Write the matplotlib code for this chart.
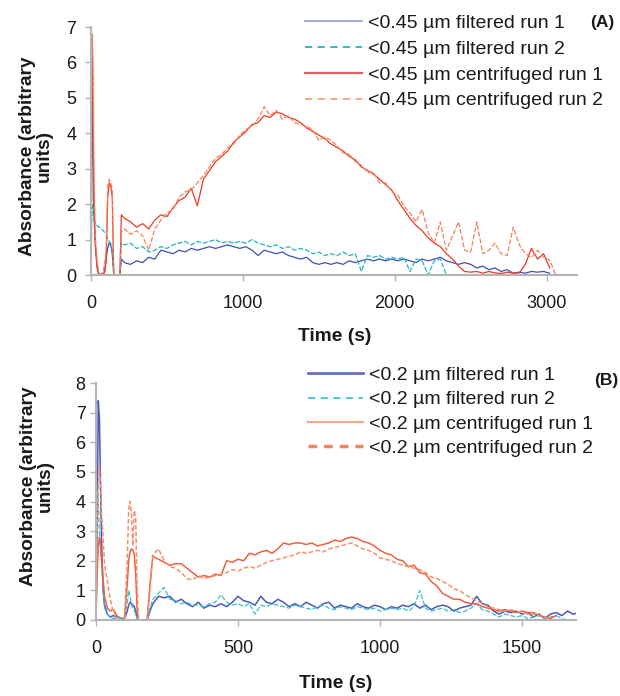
import numpy as np
import matplotlib
matplotlib.use("Agg")
import matplotlib.pyplot as plt

plt.rcParams['font.family'] = ['Liberation Sans', 'DejaVu Sans']

# ---- panel A data (<0.45 um) ----
t_a = [0, 5, 10, 15, 20, 25, 30, 40, 50, 60, 70, 80, 90, 100, 110, 120, 130, 140,
       150, 160, 170, 180, 190, 200] + list(range(220, 3061, 40))

filt1_a = [0, 6.8, 4.0, 2.2, 1.6, 1.2, 0.8, 0.3, 0.05, 0.0, 0.02, 0.0, 0.1, 0.5, 0.75, 0.9, 0.85, 0.6,
           0.0, 0.0, 0.0, 0.0, 0.0, 0.45,
           0.35, 0.3, 0.4, 0.35, 0.5, 0.45, 0.7, 0.65, 0.6, 0.7, 0.65, 0.75,
           0.7, 0.75, 0.8, 0.75, 0.8, 0.85, 0.8, 0.75, 0.8, 0.7, 0.55, 0.7,
           0.65, 0.6, 0.65, 0.55, 0.5, 0.45, 0.5, 0.35, 0.3, 0.35, 0.3, 0.35,
           0.3, 0.4, 0.35, 0.4, 0.45, 0.4, 0.45, 0.4, 0.45, 0.4, 0.45, 0.4,
           0.35, 0.45, 0.4, 0.45, 0.5, 0.4, 0.35, 0.3, 0.35, 0.3, 0.2, 0.25,
           0.15, 0.2, 0.1, 0.15, 0.05, 0.08, 0.05, 0.1, 0.08, 0.1, 0.05, np.nan]

filt2_a = [0.3, 1.5, 2.0, 1.9, 1.7, 1.5, 1.4, 1.4, 1.35, 1.35, 1.3, 1.25, 1.2, 1.15, 1.0, 0.95, 0.9, 0.7,
           0.0, 0.0, 0.0, 0.0, 0.0, 0.9,
           0.85, 0.9, 0.75, 0.8, 0.65, 0.7, 0.8, 0.75, 0.85, 0.9, 0.95, 0.85,
           0.95, 0.9, 0.95, 1.0, 0.9, 0.95, 0.9, 0.95, 0.9, 1.0, 0.9, 0.85,
           0.8, 0.85, 0.75, 0.8, 0.7, 0.75, 0.7, 0.6, 0.65, 0.55, 0.6, 0.55,
           0.65, 0.55, 0.6, 0.1, 0.55, 0.5, 0.55, 0.45, 0.5, 0.45, 0.5, 0.1,
           0.45, 0.4, 0.0, 0.4, 0.45, 0.0] + [np.nan] * 18

cent1_a = [0, 6.8, 6.2, 3.6, 2.1, 1.3, 0.7, 0.2, 0.0, 0.0, 0.05, 0.0, 0.1, 0.4, 2.2, 2.6, 2.5, 2.2,
           0.0, 0.0, 0.0, 0.0, 0.0, 1.7,
           1.6, 1.5, 1.35, 1.45, 1.3, 1.55, 1.7, 1.65, 1.9, 2.1, 2.2, 2.45,
           1.95, 2.7, 2.95, 3.2, 3.35, 3.5, 3.75, 3.9, 4.05, 4.25, 4.3, 4.5,
           4.45, 4.6, 4.55, 4.45, 4.4, 4.3, 4.15, 4.05, 3.95, 3.85, 3.7, 3.6,
           3.5, 3.35, 3.25, 3.05, 2.95, 2.85, 2.7, 2.55, 2.4, 2.1, 1.85, 1.6,
           1.4, 1.25, 1.05, 0.9, 0.8, 0.6, 0.45, 0.25, 0.1, 0.08, 0.1, 0.05,
           0.1, 0.06, 0.04, 0.08, 0.05, 0.06, 0.3, 0.75, 0.45, 0.6, 0.2, np.nan]

cent2_a = [0, 6.5, 6.8, 5.5, 3.0, 1.8, 1.0, 0.4, 0.1, 0.0, 0.0, 0.1, 0.3, 0.8, 2.5, 2.7, 2.6, 2.4,
           0.0, 0.0, 0.0, 0.0, 0.0, 1.2,
           1.3, 1.15, 1.25, 1.1, 0.7, 1.3, 1.55, 1.75, 1.85, 2.2, 2.35, 2.4,
           2.6, 2.8, 3.05, 3.3, 3.4, 3.6, 3.7, 3.95, 4.1, 4.2, 4.4, 4.75,
           4.5, 4.65, 4.4, 4.5, 4.3, 4.25, 4.2, 4.1, 3.8, 3.9, 3.8, 3.65,
           3.45, 3.4, 3.2, 3.1, 2.9, 2.9, 2.6, 2.6, 2.35, 2.25, 1.95, 1.75,
           1.5, 1.85, 1.2, 0.9, 1.5, 0.7, 1.1, 1.5, 0.7, 0.65, 1.5, 0.6,
           0.7, 0.9, 0.6, 0.55, 1.35, 0.85, 0.6, 0.5, 0.7, 0.5, 0.42, 0.0]

# ---- panel B data (<0.2 um) ----
t_b = [0, 4, 8, 12, 16, 20, 25, 30, 40, 50, 60, 70, 80, 90, 100, 110, 115, 120, 125, 130,
       135, 140, 145, 150, 160, 170, 180, 190] + list(range(200, 1701, 20))

filt1_b = [0, 3.0, 7.4, 6.8, 4.5, 2.5, 1.0, 0.5, 0.2, 0.1, 0.15, 0.1, 0.1, 0.05, 0.05, 0.3, 0.5, 0.6,
           0.55, 0.5, 0.45, 0.3, 0.0, 0.0, 0.0, 0.0, 0.0, 0.3,
           0.55, 0.8, 0.75, 0.8, 0.6, 0.7, 0.55, 0.45, 0.6, 0.4,
           0.5, 0.45, 0.55, 0.45, 0.6, 0.8, 0.65, 0.6, 0.5, 0.8,
           0.6, 0.55, 0.7, 0.6, 0.45, 0.55, 0.45, 0.6, 0.5, 0.4,
           0.55, 0.6, 0.4, 0.5, 0.45, 0.4, 0.55, 0.45, 0.4, 0.5,
           0.45, 0.35, 0.45, 0.4, 0.5, 0.45, 0.55, 0.4, 0.5, 0.35,
           0.45, 0.5, 0.45, 0.3, 0.4, 0.45, 0.5, 0.8, 0.55, 0.5,
           0.3, 0.2, 0.3, 0.25, 0.3, 0.2, 0.25, 0.1, 0.2, 0.05,
           0.2, 0.25, 0.15, 0.3, 0.2, 0.25]

filt2_b = [0, 4.4, 4.0, 3.0, 2.5, 1.8, 1.0, 0.4, 0.2, 0.1, 0.05, 0.05, 0.1, 0.05, 0.1, 0.6, 1.0, 0.8,
           0.5, 0.4, 0.3, 0.2, 0.0, 0.0, 0.0, 0.0, 0.0, 0.4,
           0.7, 0.9, 1.1, 0.7, 0.65, 0.55, 0.6, 0.5, 0.5, 0.45,
           0.55, 0.6, 0.85, 0.6, 0.5, 0.55, 0.45, 0.55, 0.2, 0.5,
           0.45, 0.55, 0.5, 0.45, 0.4, 0.5, 0.45, 0.4, 0.35, 0.45,
           0.5, 0.4, 0.35, 0.45, 0.4, 0.35, 0.45, 0.4, 0.35, 0.4,
           0.3, 0.35, 0.4, 0.35, 0.4, 0.3, 0.45, 1.0, 0.4, 0.3,
           0.35, 0.4, 0.3, 0.35, 0.25, 0.3, 0.4, 0.55, 0.35, 0.3,
           0.2, 0.1, 0.2, 0.15, 0.1, 0.15, 0.05, 0.1, 0.15, 0.05,
           0.1, 0.15, 0.05, 0.0, np.nan, np.nan]

cent1_b = [0, 1.5, 2.5, 2.8, 2.5, 2.0, 1.4, 0.8, 0.4, 0.3, 0.35, 0.2, 0.05, 0.0, 0.0, 1.2, 2.0, 2.3,
           2.4, 2.35, 2.2, 1.5, 0.3, 0.0, 0.0, 0.0, 0.0, 1.2,
           2.15, 2.05, 1.95, 1.85, 1.9, 1.9, 1.75, 1.6, 1.45, 1.5,
           1.45, 1.55, 1.5, 2.0, 1.95, 2.05, 2.0, 2.25, 2.2, 2.3,
           2.35, 2.25, 2.4, 2.6, 2.55, 2.6, 2.6, 2.55, 2.6, 2.5,
           2.55, 2.6, 2.7, 2.65, 2.75, 2.8, 2.75, 2.65, 2.6, 2.5,
           2.35, 2.25, 2.2, 2.05, 2.0, 1.8, 1.85, 1.6, 1.55, 1.3,
           1.15, 0.9, 0.8, 0.7, 0.7, 0.6, 0.55, 0.55, 0.45, 0.4,
           0.35, 0.3, 0.35, 0.3, 0.25, 0.3, 0.25, 0.25, 0.15, 0.1,
           0.05, 0.15, np.nan, np.nan, np.nan, np.nan]

cent2_b = [0.0, 3.0, 4.5, 5.2, 4.6, 3.5, 2.8, 1.9, 1.3, 0.7, 0.3, 0.1, 0.05, 0.0, 0.0, 2.0, 3.7, 4.0,
           3.6, 2.5, 3.7, 3.4, 1.0, 0.0, 0.0, 0.0, 0.0, 1.0,
           2.2, 2.4, 2.0, 1.8, 1.75, 1.6, 1.4, 1.35, 1.5, 1.4,
           1.45, 1.5, 1.55, 1.6, 1.7, 1.65, 1.75, 1.8, 1.75, 1.85,
           1.95, 2.0, 2.05, 2.1, 2.15, 2.2, 2.3, 2.25, 2.3, 2.35,
           2.3, 2.4, 2.45, 2.5, 2.55, 2.6, 2.5, 2.4, 2.35, 2.25,
           2.1, 2.05, 2.0, 1.9, 1.85, 1.8, 1.75, 1.7, 1.6, 1.45,
           1.4, 1.3, 1.2, 1.05, 1.0, 0.85, 0.75, 0.65, 0.55, 0.45,
           0.4, 0.35, 0.3, 0.35, 0.3, 0.25, 0.2, 0.2, 0.15, 0.1,
           0.05, np.nan, np.nan, np.nan, np.nan, np.nan]

labels_a = ['<0.45 µm filtered run 1', '<0.45 µm filtered run 2',
            '<0.45 µm centrifuged run 1', '<0.45 µm centrifuged run 2']
labels_b = ['<0.2 µm filtered run 1', '<0.2 µm filtered run 2',
            '<0.2 µm centrifuged run 1', '<0.2 µm centrifuged run 2']

W, H = 620, 696
fig = plt.figure(figsize=(W / 100, H / 100), dpi=100)
axA = fig.add_axes([91 / W, 1 - 275 / H, 486 / W, 248 / H])
axB = fig.add_axes([96 / W, 1 - 620 / H, 480 / W, 237 / H])

txt = '#1a1a1a'
gray = '#b4b4b4'
fs_tick = 13
fs_leg = 14
fs_lab = 13.8


def style(ax, xmax, ymax, xticks, ypad):
    ax.set_xlim(0, xmax)
    ax.set_ylim(0, ymax)
    ax.set_xticks(xticks)
    ax.set_yticks(range(0, ymax + 1))
    for s in ['top', 'right']:
        ax.spines[s].set_visible(False)
    for s in ['left', 'bottom']:
        ax.spines[s].set_color(gray)
        ax.spines[s].set_linewidth(1.5)
    ax.tick_params(axis='x', length=4, width=1, color=gray, pad=10.5, labelsize=fs_tick, labelcolor=txt)
    ax.tick_params(axis='y', length=4, width=1, color=gray, pad=ypad, labelsize=fs_tick, labelcolor=txt)


def style_legend(leg, colors, widths, dashes):
    for ln, c, lw, d in zip(leg.get_lines(), colors, widths, dashes):
        ln.set_color(c)
        ln.set_linewidth(lw)
        if d:
            ln.set_dashes(d)
    for t in leg.get_texts():
        t.set_color(txt)


# panel A
a1, = axA.plot(t_a, filt1_a, color='#4050b0', lw=0.9)
a2, = axA.plot(t_a, filt2_a, color='#1fb5c4', lw=0.9, dashes=(4, 1.5))
a3, = axA.plot(t_a, cent1_a, color='#ec3a28', lw=0.9)
a4, = axA.plot(t_a, cent2_a, color='#f5825c', lw=0.9, dashes=(4, 1.5))
style(axA, 3200, 7, [0, 1000, 2000, 3000], 6.5)
legA = axA.legend([a1, a2, a3, a4], labels_a, loc='upper left',
                  bbox_to_anchor=(305 / W, 1 - 14.5 / H), bbox_transform=fig.transFigure,
                  frameon=False, fontsize=fs_leg, handlelength=2.93, handletextpad=0.3,
                  labelspacing=0.42, borderpad=0, borderaxespad=0)
style_legend(legA, ['#9aa3d6', '#1fb5c4', '#e06262', '#f8a080'],
             [1.3, 1.3, 1.6, 1.3], [None, (4, 3), None, (4, 3)])
fig.text(602 / W, 1 - 23 / H, '(A)', ha='center', va='center', fontsize=12.5,
         fontweight='bold', color=txt)
fig.text(335 / W, 1 - 336 / H, 'Time (s)', ha='center', va='center', fontsize=fs_lab,
         fontweight='bold', color=txt)
fig.text(36 / W, 1 - 156 / H, 'Absorbance (arbitrary\nunits)', ha='center', va='center',
         rotation=90, fontsize=fs_lab, fontweight='bold', color=txt, multialignment='center',
         linespacing=1.0)

# panel B
b1, = axB.plot(t_b, filt1_b, color='#4a5ab8', lw=1.1)
b2, = axB.plot(t_b, filt2_b, color='#3cbfcc', lw=0.9, dashes=(4, 1.5))
b3, = axB.plot(t_b, cent1_b, color='#f06040', lw=1.1)
b4, = axB.plot(t_b, cent2_b, color='#f5906c', lw=1.1, dashes=(3, 1.5))
style(axB, 1690, 8, [0, 500, 1000, 1500], 3.5)
legB = axB.legend([b1, b2, b3, b4], labels_b, loc='upper left',
                  bbox_to_anchor=(308 / W, 1 - 366.5 / H), bbox_transform=fig.transFigure,
                  frameon=False, fontsize=fs_leg, handlelength=2.85, handletextpad=0.3,
                  labelspacing=0.34, borderpad=0, borderaxespad=0)
style_legend(legB, ['#6270c0', '#40c4d0', '#f4a68c', '#f08462'],
             [2.0, 1.3, 1.5, 2.5], [None, (4, 3), None, (2.5, 2)])
fig.text(606 / W, 1 - 381 / H, '(B)', ha='center', va='center', fontsize=12.5,
         fontweight='bold', color=txt)
fig.text(336 / W, 1 - 683 / H, 'Time (s)', ha='center', va='center', fontsize=fs_lab,
         fontweight='bold', color=txt)
fig.text(37 / W, 1 - 486 / H, 'Absorbance (arbitrary\nunits)', ha='center', va='center',
         rotation=90, fontsize=fs_lab, fontweight='bold', color=txt, multialignment='center',
         linespacing=1.0)

fig.savefig('out.png', dpi=100)
